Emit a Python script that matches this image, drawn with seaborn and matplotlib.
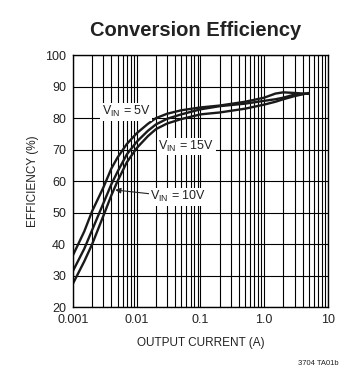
import numpy as np
import pandas as pd
import matplotlib
matplotlib.use("Agg")
import matplotlib.pyplot as plt
import matplotlib.ticker as mticker
import seaborn as sns

# values
current = [0.001, 0.0015, 0.002, 0.003, 0.004, 0.005, 0.007, 0.01, 0.015, 0.02, 0.03,
           0.05, 0.1, 0.2, 0.5, 1.0, 1.5, 2.0, 3.0, 5.0]
eff_5v = [36.5, 44.0, 50.5, 58.0, 64.0, 67.5, 71.8, 75.2, 78.2, 80.0, 81.4,
          82.5, 83.4, 84.0, 85.2, 86.5, 87.8, 88.2, 88.0, 87.7]
eff_10v = [31.5, 38.5, 44.5, 53.0, 59.0, 63.0, 68.5, 72.5, 76.0, 78.0, 79.8,
           81.2, 82.8, 83.8, 84.6, 85.5, 86.0, 86.5, 87.5, 87.8]
eff_15v = [27.5, 34.5, 40.0, 49.0, 55.5, 60.0, 66.0, 70.5, 74.3, 76.5, 78.3,
           79.7, 81.2, 81.8, 83.0, 84.3, 85.2, 86.0, 87.0, 88.0]
x_ticks = [0.001, 0.01, 0.1, 1, 10]
x_ticklabels = ["0.001", "0.01", "0.1", "1.0", "10"]
y_ticks = [20, 30, 40, 50, 60, 70, 80, 90, 100]

df = pd.DataFrame({
    "current": current * 3,
    "eff": eff_5v + eff_10v + eff_15v,
    "vin": ["5V"] * len(current) + ["10V"] * len(current) + ["15V"] * len(current),
})

sns.set_style("white")
plt.rcParams["font.family"] = ["Liberation Sans", "DejaVu Sans"]
plt.rcParams["mathtext.fontset"] = "custom"
plt.rcParams["mathtext.rm"] = "Liberation Sans"
plt.rcParams["mathtext.it"] = "Liberation Sans"

fig = plt.figure(figsize=(3.56, 3.83), dpi=100)
ax = fig.add_axes([0.205, 0.198, 0.716, 0.658])

sns.lineplot(data=df, x="current", y="eff", hue="vin", palette=["#1a1a1a"] * 3,
             linewidth=1.7, legend=False, ax=ax, estimator=None, sort=True)

ax.set_xscale("log")
ax.set_xlim(0.001, 10)
ax.set_ylim(20, 100)
ax.set_xticks(x_ticks)
ax.set_xticklabels(x_ticklabels)
ax.set_yticks(y_ticks)
ax.xaxis.set_minor_locator(mticker.LogLocator(base=10, subs=np.arange(2, 10)))
ax.xaxis.set_minor_formatter(mticker.NullFormatter())
ax.grid(True, which="both", axis="x", color="black", lw=0.8)
ax.grid(True, which="major", axis="y", color="black", lw=0.8)
ax.tick_params(which="both", length=0, labelsize=9, colors="#222222", pad=5)
for s in ax.spines.values():
    s.set_color("black")
    s.set_linewidth(1.0)

ax.set_xlabel("OUTPUT CURRENT (A)", fontsize=8.5, color="#222222", labelpad=8)
ax.set_ylabel("EFFICIENCY (%)", fontsize=8.5, color="#222222", labelpad=4)

lbl = dict(fontsize=9, color="#222222", ha="center", va="center",
           bbox=dict(facecolor="white", edgecolor="none", pad=1.0))
ax.text(0.0068, 82.0, r"V$_{\mathrm{IN}}$ = 5V", **lbl)
ax.text(0.06, 71.0, r"V$_{\mathrm{IN}}$ = 15V", **lbl)
ax.annotate(r"V$_{\mathrm{IN}}$ = 10V", xy=(0.0046, 57.2), xytext=(0.045, 55.0),
            arrowprops=dict(arrowstyle="-|>", color="#222222", lw=0.8, mutation_scale=8,
                            shrinkA=0, shrinkB=0), **lbl)

fig.text(0.55, 0.92, "Conversion Efficiency", fontsize=14.5, fontweight="bold",
         ha="center", va="center", color="#222222")
fig.text(0.95, 0.05, "3704 TA01b", fontsize=5.5, ha="right", va="center", color="#222222")

fig.savefig("out.png", dpi=100)
